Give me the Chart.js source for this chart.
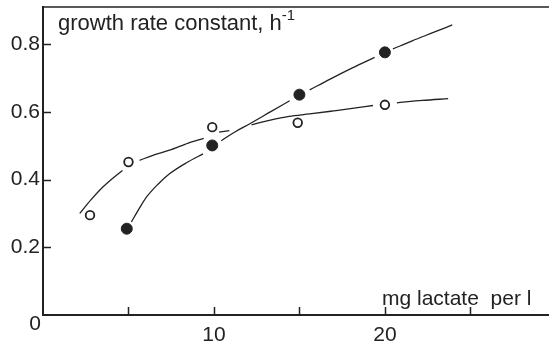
<!DOCTYPE html>
<html>
<head>
<meta charset="utf-8">
<title>Growth rate vs lactate</title>
<script src="https://cdn.jsdelivr.net/npm/chart.js@4.4.0/dist/chart.umd.min.js"></script>
<style>
    html, body { margin: 0; padding: 0; background: #ffffff; }
    #growth-chart { display: block; }
</style>
</head>
<body>
<canvas id="growth-chart" width="549" height="343"></canvas>
<script>
// Measured growth rates (open and filled symbols)
const openX = [2.75, 5, 9.9, 14.9, 20];
const openY = [0.295, 0.452, 0.555, 0.568, 0.621];
const filledX = [4.9, 9.9, 15, 20];
const filledY = [0.255, 0.501, 0.651, 0.776];

// Hand-drawn fit curves; null = pen lifted (gap next to a symbol or crossing)
const openCurveX = [2.15, 2.8, 3.5, 4.1, 4.65, null, 5.65, 6.5, 7.4, 8.5, 9.4, null, 10.3, 10.9, null,
    12.2, 13.3, 14.4, 15.6, 17.0, 18.2, 19.3, null, 20.7, 22.2, 23.7];
const openCurveY = [0.300, 0.340, 0.378, 0.405, 0.427, null, 0.457, 0.473, 0.487, 0.508, 0.522, null, 0.540, 0.545, null,
    0.562, 0.576, 0.587, 0.594, 0.603, 0.611, 0.619, null, 0.627, 0.634, 0.639];
const filledCurveX = [5.17, 5.6, 6.05, 6.7, 7.4, 8.4, 9.36, null, 10.43, 11.2, 12.1, 13.3, 14.43, null,
    15.6, 16.8, 18.1, 19.4, null, 20.47, 21.6, 22.8, 23.94];
const filledCurveY = [0.275, 0.312, 0.348, 0.385, 0.417, 0.450, 0.476, null, 0.515, 0.540, 0.565, 0.600, 0.633, null,
    0.665, 0.697, 0.730, 0.761, null, 0.786, 0.810, 0.834, 0.857];

// Axis ticks
const xTicks = [5, 10, 15, 20, 25];
const xTickLabels = ['', '10', '', '20', ''];
const yTicks = [0.2, 0.4, 0.6, 0.8];
const yTickLabels = ['0.2', '0.4', '0.6', '0.8'];

const INK = '#222222';
const FONT = '"Liberation Sans", Arial, sans-serif';

/**
 * Zip two value lists into {x, y} points
 */
function toPoints(xs, ys) {
    return xs.map((x, i) => ({ x: x, y: ys[i] }));
}

/**
 * Inward tick marks, top frame line and free-standing labels
 */
const frameAndLabels = {
    id: 'frameAndLabels',
    afterDraw(chart) {
        const { ctx, chartArea } = chart;
        const xScale = chart.scales.x;
        const yScale = chart.scales.y;

        ctx.save();
        ctx.strokeStyle = INK;
        ctx.lineWidth = 1.6;

        // top frame line
        ctx.beginPath();
        ctx.moveTo(chartArea.left, chartArea.top);
        ctx.lineTo(chartArea.right, chartArea.top);
        ctx.stroke();

        // ticks pointing into the plot
        ctx.lineWidth = 1.5;
        ctx.beginPath();
        xScale.ticks.forEach(t => {
            const px = Math.round(xScale.getPixelForValue(t.value)) + 0.5;
            ctx.moveTo(px, chartArea.bottom);
            ctx.lineTo(px, chartArea.bottom - 8);
        });
        yScale.ticks.forEach(t => {
            const py = Math.round(yScale.getPixelForValue(t.value)) + 0.5;
            ctx.moveTo(chartArea.left, py);
            ctx.lineTo(chartArea.left + 8, py);
        });
        ctx.stroke();

        ctx.fillStyle = INK;
        ctx.textBaseline = 'alphabetic';
        ctx.textAlign = 'left';

        // y axis title with superscript
        ctx.font = '22px ' + FONT;
        const title = 'growth rate constant, h';
        ctx.fillText(title, 58, 30);
        const tw = ctx.measureText(title).width;
        ctx.font = '15px ' + FONT;
        ctx.fillText('-1', 58 + tw, 20);

        // x axis title
        ctx.font = '21px ' + FONT;
        ctx.fillText('mg lactate  per l', 382, 305);

        // origin label
        ctx.font = '21px ' + FONT;
        ctx.textAlign = 'center';
        ctx.textBaseline = 'middle';
        ctx.fillText('0', 35, 324);

        ctx.restore();
    }
};

const ctx = document.getElementById('growth-chart').getContext('2d');

new Chart(ctx, {
    type: 'scatter',
    data: {
        datasets: [
            {
                label: 'filled',
                data: toPoints(filledX, filledY),
                pointRadius: 5.5,
                pointBackgroundColor: INK,
                pointBorderColor: INK,
                pointBorderWidth: 1,
                order: 0
            },
            {
                label: 'open',
                data: toPoints(openX, openY),
                pointRadius: 4.3,
                pointBackgroundColor: '#ffffff',
                pointBorderColor: INK,
                pointBorderWidth: 1.8,
                order: 0
            },
            {
                label: 'filled fit',
                data: toPoints(filledCurveX, filledCurveY),
                showLine: true,
                spanGaps: false,
                pointRadius: 0,
                borderColor: INK,
                borderWidth: 1.3,
                cubicInterpolationMode: 'monotone',
                order: 1
            },
            {
                label: 'open fit',
                data: toPoints(openCurveX, openCurveY),
                showLine: true,
                spanGaps: false,
                pointRadius: 0,
                borderColor: INK,
                borderWidth: 1.3,
                cubicInterpolationMode: 'monotone',
                order: 1
            }
        ]
    },
    options: {
        responsive: false,
        animation: false,
        layout: {
            autoPadding: false,
            padding: { top: 7, left: 0, right: 0, bottom: 0 }
        },
        plugins: {
            legend: { display: false },
            tooltip: { enabled: false },
            title: { display: false }
        },
        scales: {
            x: {
                type: 'linear',
                position: 'bottom',
                min: 0,
                max: 29.6,
                afterFit: scale => {
                    scale.height = 28;
                    scale.paddingLeft = 0;
                    scale.paddingRight = 0;
                },
                afterBuildTicks: scale => { scale.ticks = xTicks.map(v => ({ value: v })); },
                grid: { display: false, drawTicks: false },
                border: { display: true, color: INK, width: 2 },
                ticks: {
                    color: INK,
                    font: { family: FONT, size: 21 },
                    padding: 8,
                    maxRotation: 0,
                    autoSkip: false,
                    callback: value => {
                        const i = xTicks.indexOf(value);
                        return i >= 0 ? xTickLabels[i] : '';
                    }
                }
            },
            y: {
                type: 'linear',
                position: 'left',
                min: 0,
                max: 0.91,
                afterFit: scale => {
                    scale.width = 43;
                    scale.paddingTop = 0;
                    scale.paddingBottom = 0;
                },
                afterBuildTicks: scale => { scale.ticks = yTicks.map(v => ({ value: v })); },
                grid: { display: false, drawTicks: false },
                border: { display: true, color: INK, width: 2 },
                ticks: {
                    color: INK,
                    font: { family: FONT, size: 21 },
                    padding: 3,
                    autoSkip: false,
                    callback: value => {
                        const i = yTicks.indexOf(value);
                        return i >= 0 ? yTickLabels[i] : '';
                    }
                }
            }
        }
    },
    plugins: [frameAndLabels]
});
</script>
</body>
</html>
